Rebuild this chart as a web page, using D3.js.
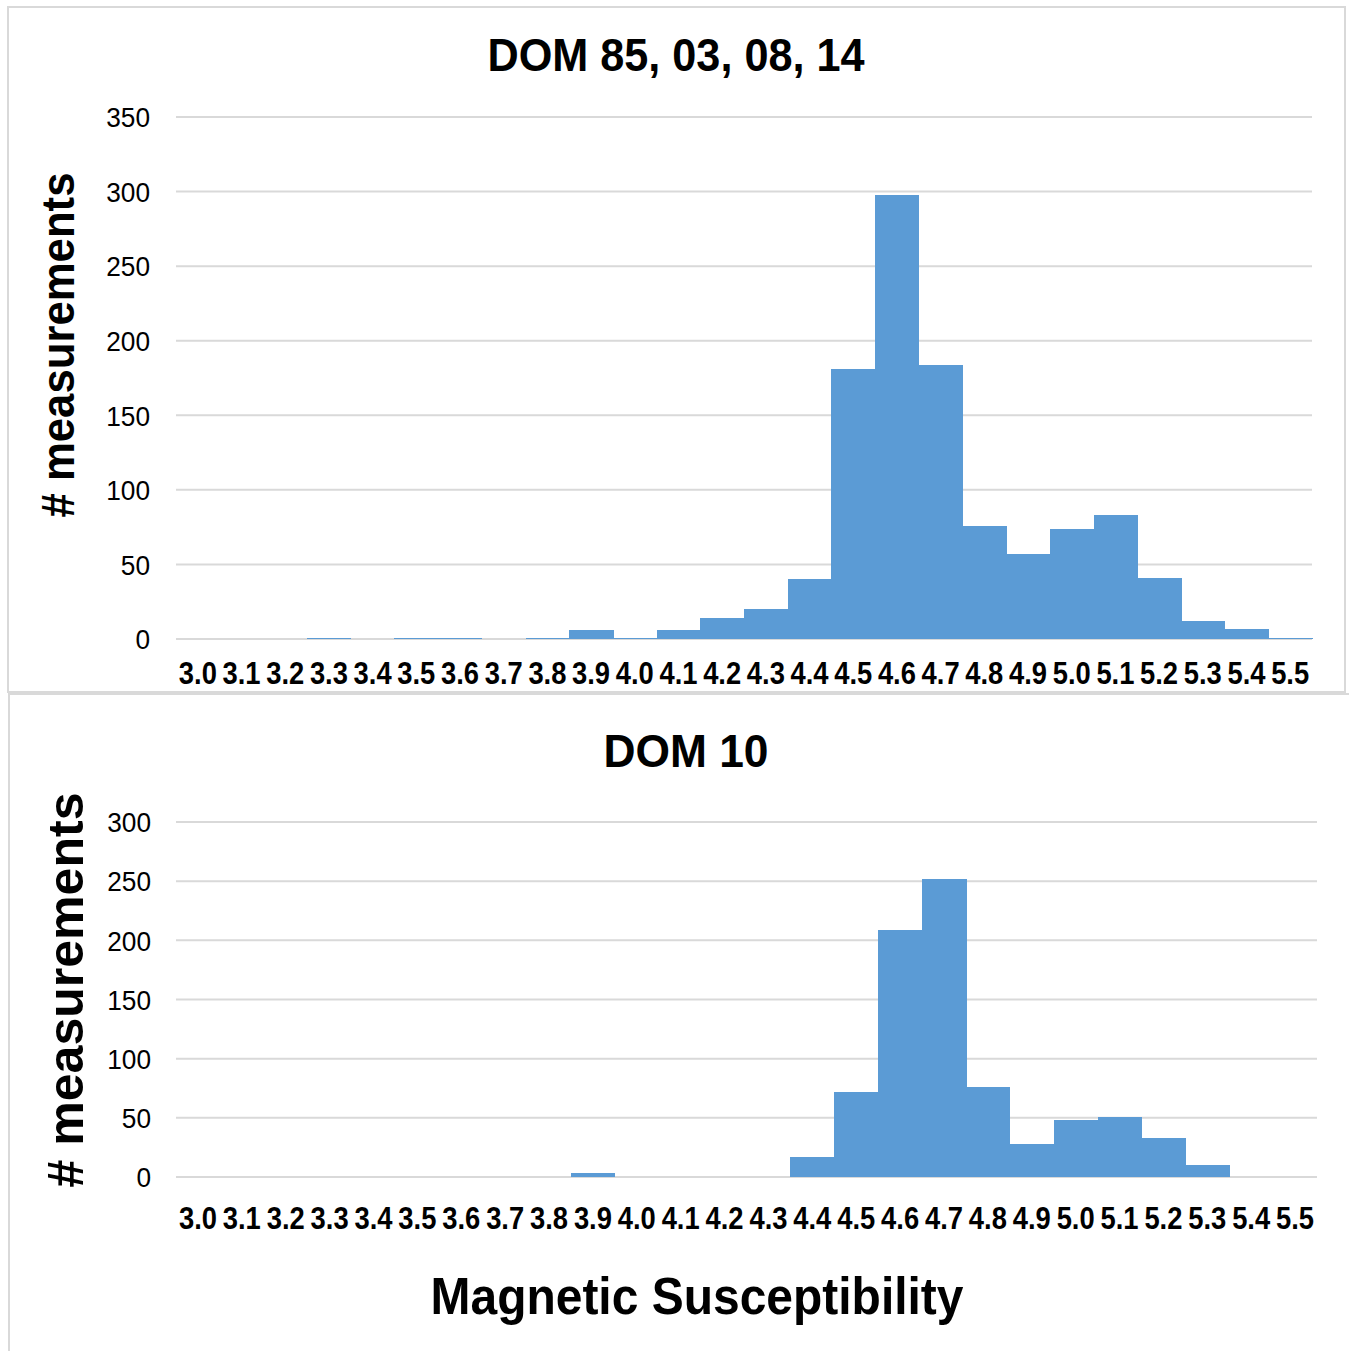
<!DOCTYPE html>
<html lang="en">
  <head>
    <meta charset="utf-8">
    <script type="text/javascript" src="https://cdn.jsdelivr.net/npm/d3@7/dist/d3.min.js"></script>
    <style>
      body { margin: 0; background: #fff; }
      text { font-family: "Liberation Sans", Arial, sans-serif; fill: #000; }
    </style>
  </head>
  <body>
    <svg class="chart"></svg>
  </body>
  <script type="text/javascript">
    // bin labels (magnetic susceptibility)
    var bins = ['3.0','3.1','3.2','3.3','3.4','3.5','3.6','3.7','3.8','3.9',
                '4.0','4.1','4.2','4.3','4.4','4.5','4.6','4.7','4.8','4.9',
                '5.0','5.1','5.2','5.3','5.4','5.5'];

    // DOM 85, 03, 08, 14
    var topCounts = [0,0,0,1,0,1,1,0,1,6,1,6,14,20,40,181,298,184,76,57,74,83,41,12,7,1];
    var topTicks = [0,50,100,150,200,250,300,350];

    // DOM 10
    var bottomCounts = [0,0,0,0,0,0,0,0,0,3,0,0,0,0,17,72,209,252,76,28,48,51,33,10,0,0];
    var bottomTicks = [0,50,100,150,200,250,300];

    var svg = d3.select('.chart')
                .attr('width', 1349)
                .attr('height', 1351);

    svg.append('rect').attr('width',1349).attr('height',1351).attr('fill','#fff');

    // panel frames
    svg.append('rect')
       .attr('x',8).attr('y',7).attr('width',1337).attr('height',685)
       .attr('fill','none').attr('stroke','#d9d9d9').attr('stroke-width',2);
    svg.append('rect')
       .attr('x',9).attr('y',694).attr('width',1345).attr('height',664)
       .attr('fill','none').attr('stroke','#d9d9d9').attr('stroke-width',2);

    var draw = function(cfg){
      var xScale = d3.scaleBand()
                     .domain(bins)
                     .range([cfg.left, cfg.right])
                     .padding(0);

      var yScale = d3.scaleLinear()
                     .domain([0, cfg.max])
                     .range([cfg.bottom, cfg.top]);

      var plot = svg.append('g').classed('plot', true);

      // gridlines
      plot.append('g').classed('grid', true)
          .selectAll('line')
          .data(cfg.ticks)
          .enter()
          .append('line')
          .attr('x1', cfg.left)
          .attr('x2', cfg.right)
          .attr('y1', function(d){return yScale(d)})
          .attr('y2', function(d){return yScale(d)})
          .attr('stroke', '#d9d9d9')
          .attr('stroke-width', 2);

      // bars (no gaps, histogram style)
      plot.append('g').classed('bars', true)
          .selectAll('rect')
          .data(cfg.counts)
          .enter()
          .append('rect')
          .attr('x', function(d,i){return xScale(bins[i])})
          .attr('width', xScale.bandwidth() + 0.6)
          .attr('y', function(d){return yScale(d)})
          .attr('height', function(d){return cfg.bottom - yScale(d)})
          .attr('fill', '#5b9bd5')
          .attr('shape-rendering', 'crispEdges');

      // y axis
      var yAxis = d3.axisLeft(yScale).tickValues(cfg.ticks).tickSize(0).tickPadding(0);
      var yg = plot.append('g').classed('yAxis', true)
                   .attr('transform', 'translate(' + cfg.yLabelX + ',0)')
                   .call(yAxis);
      yg.select('.domain').remove();
      yg.selectAll('text')
        .attr('font-size', 27)
        .attr('font-family', '"Liberation Sans", Arial, sans-serif')
        .attr('fill', '#111')
        .attr('dy', '0.36em')
        .attr('textLength', function(d){return String(d).length * 14.6})
        .attr('lengthAdjust', 'spacingAndGlyphs');

      // x axis
      var xAxis = d3.axisBottom(xScale).tickSize(0).tickPadding(0);
      var xg = plot.append('g').classed('xAxis', true)
                   .attr('transform', 'translate(0,' + cfg.xLabelY + ')')
                   .call(xAxis);
      xg.select('.domain').remove();
      xg.selectAll('text')
        .attr('font-size', 31)
        .attr('font-weight', 'bold')
        .attr('font-family', '"Liberation Sans", Arial, sans-serif')
        .attr('fill', '#111')
        .attr('dy', 0)
        .attr('textLength', 38)
        .attr('lengthAdjust', 'spacingAndGlyphs');

      // title
      svg.append('text')
         .attr('x', cfg.titleX)
         .attr('y', cfg.titleY)
         .attr('text-anchor', 'middle')
         .attr('font-size', 46)
         .attr('font-weight', 'bold')
         .attr('textLength', cfg.titleLen)
         .attr('lengthAdjust', 'spacingAndGlyphs')
         .text(cfg.title);

      // y title
      svg.append('text')
         .attr('transform', 'translate(' + cfg.yTitleX + ',' + cfg.yTitleY + ') rotate(-90)')
         .attr('text-anchor', 'middle')
         .attr('font-size', cfg.yTitleSize)
         .attr('font-weight', 'bold')
         .attr('textLength', cfg.yTitleLen)
         .attr('lengthAdjust', 'spacingAndGlyphs')
         .text('# measurements');
    };

    draw({
      counts: topCounts, ticks: topTicks, max: 350,
      left: 176, right: 1312, top: 117, bottom: 639,
      yLabelX: 150, xLabelY: 684,
      title: 'DOM 85, 03, 08, 14', titleX: 676, titleY: 71, titleLen: 377,
      yTitleX: 74, yTitleY: 345, yTitleSize: 46, yTitleLen: 345
    });

    draw({
      counts: bottomCounts, ticks: bottomTicks, max: 300,
      left: 176, right: 1317, top: 822, bottom: 1177,
      yLabelX: 151, xLabelY: 1229,
      title: 'DOM 10', titleX: 686, titleY: 767, titleLen: 165,
      yTitleX: 83, yTitleY: 990, yTitleSize: 50, yTitleLen: 395
    });

    // x title
    svg.append('text')
       .attr('x', 697)
       .attr('y', 1314)
       .attr('text-anchor', 'middle')
       .attr('font-size', 52)
       .attr('font-weight', 'bold')
       .attr('textLength', 533)
       .attr('lengthAdjust', 'spacingAndGlyphs')
       .text('Magnetic Susceptibility');
  </script>
</html>
